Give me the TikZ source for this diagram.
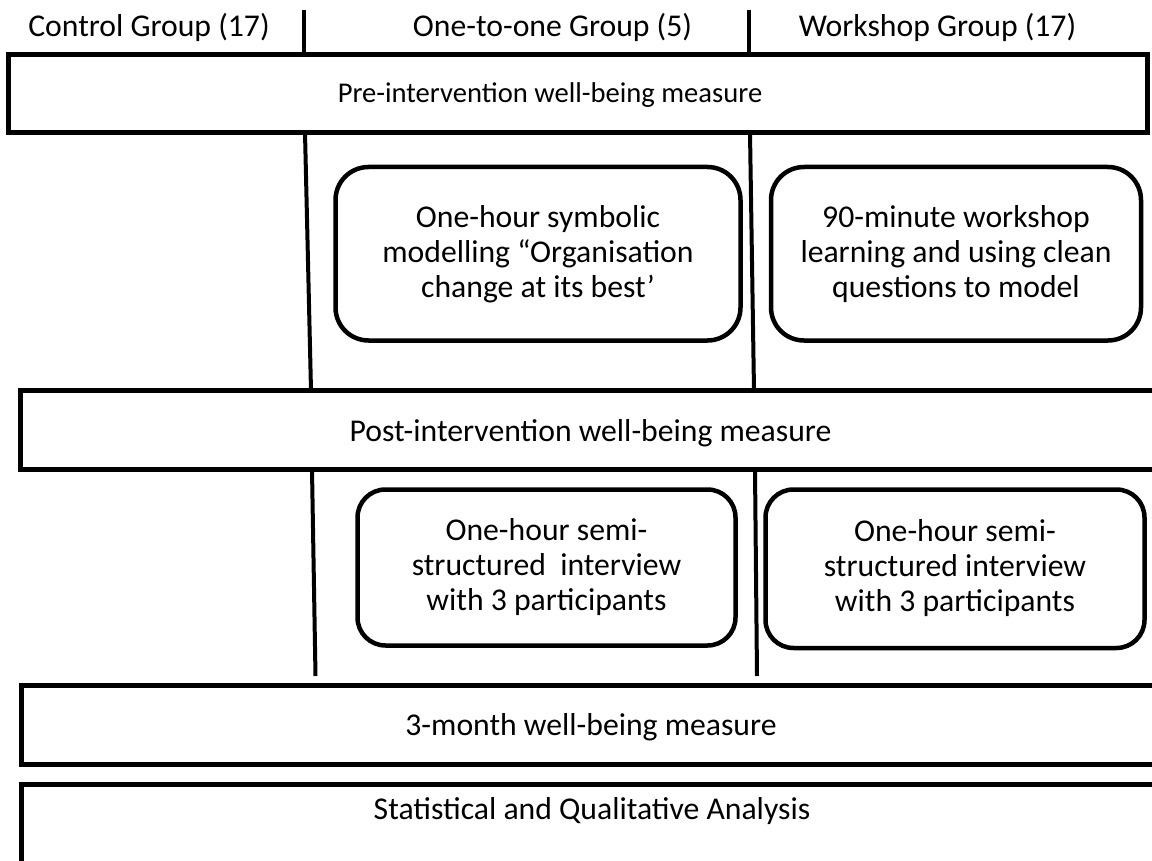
\documentclass[tikz,border=0pt]{standalone}
\usepackage{fontspec}
\setmainfont{Carlito}
\begin{document}
\begin{tikzpicture}[x=1pt,y=-1pt,
  bar/.style={draw=black,line width=5pt,fill=none},
  lane/.style={draw=black,line width=4pt},
  rbox/.style={draw=black,line width=4.5pt,fill=white},
  big/.style={font=\fontsize{31.7}{35}\selectfont},
  small/.style={font=\fontsize{28.6}{35}\selectfont},
  lbl/.style={big,anchor=base,inner sep=0pt},
  boxtxt/.style={big,align=center,inner sep=0pt}]
\useasboundingbox (0,0) rectangle (1152,861);
\clip (0,0) rectangle (1152,861);
\fill[white] (0,0) rectangle (1152,861);

% header labels
\node[lbl] (hc) at (149,37) {Control Group (17)};
\node[lbl] (ho) at (552.5,37) {One-to-one Group (5)};
\node[lbl] (hw) at (937.5,37) {Workshop Group (17)};

% lane coordinates
\coordinate (a0) at (303.5,10);   \coordinate (a1) at (303.5,54.5);
\coordinate (b0) at (749,10);     \coordinate (b1) at (749,54.5);
\coordinate (a2) at (305,132.5);  \coordinate (a3) at (311,390.5);
\coordinate (b2) at (750,132.5);  \coordinate (b3) at (754,390.5);
\coordinate (a4) at (312,469.5);  \coordinate (a5) at (315.5,676);
\coordinate (b4) at (755,469.5);  \coordinate (b5) at (757,676);

\draw[lane] (a0) -- (a1);
\draw[lane] (b0) -- (b1);
\draw[lane] (a2) -- (a3);
\draw[lane] (b2) -- (b3);
\draw[lane] (a4) -- (a5);
\draw[lane] (b4) -- (b5);

% bars
\draw[bar] (8.5,54.5) rectangle (1147.5,132.5);
\node[small,anchor=base,inner sep=0pt] (pre) at (550,103) {Pre-intervention well-being measure};

\draw[bar] (20,390.5) rectangle (1170,469.5);
\node[lbl] (post) at (590.5,441) {Post-intervention well-being measure};

\draw[bar] (21.5,685.5) rectangle (1170,764.5);
\node[lbl] (three) at (591,735) {3-month well-being measure};

\draw[bar] (21.5,784.5) rectangle (1170,880);
\node[lbl] (stat) at (592,819) {Statistical and Qualitative Analysis};

% rounded boxes
\draw[rbox,rounded corners=33pt] (335.5,167) rectangle (740.5,340.5);
\node[boxtxt] (sym) at (538,254) {One-hour symbolic\\modelling “Organisation\\change at its best’};

\draw[rbox,rounded corners=33pt] (771,167) rectangle (1141,340.5);
\node[boxtxt] (work) at (956,254) {90-minute workshop\\learning and using clean\\questions to model};

\draw[rbox,rounded corners=28pt] (357.5,489.5) rectangle (735.5,645.5);
\node[boxtxt] (int1) at (546.5,567.5) {One-hour semi-\\structured\ \ interview\\with 3 participants};

\draw[rbox,rounded corners=28pt] (765.5,489.5) rectangle (1144.5,648);
\node[boxtxt] (int2) at (955,568.5) {One-hour semi-\\structured interview\\with 3 participants};
\end{tikzpicture}
\end{document}
